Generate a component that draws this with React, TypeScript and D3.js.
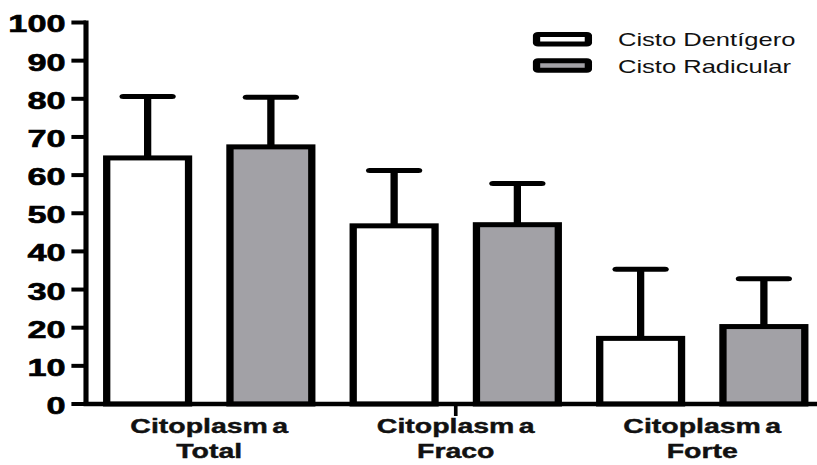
import React from "react";
import * as d3 from "d3";

// ---- data ----
const categories = ["Citoplasma Total", "Citoplasma Fraco", "Citoplasma Forte"];
const seriesNames = ["Cisto Dentígero", "Cisto Radicular"];
const dentigeroMean = [64.5, 46.7, 17.2];
const dentigeroSD = [16.1, 14.5, 18.1];
const radicularMean = [67.4, 47.0, 20.3];
const radicularSD = [13.0, 10.8, 12.5];
const yTicks = [0, 10, 20, 30, 40, 50, 60, 70, 80, 90, 100];

const seriesFill = ["#ffffff", "#a2a1a6"];

const W = 817;
const H = 465;
const SX = 1.46; // horizontal stretch of the original rendering

export default function App() {
  const innerW = W / SX;
  const axisX = 86 / SX;
  const axisEnd = 825.5 / SX;
  const y = d3.scaleLinear().domain([0, 100]).range([404, 22.5]);
  const xg = d3.scaleBand<string>().domain(categories).range([axisX, axisEnd]).padding(0);
  const xs = d3
    .scaleBand<string>()
    .domain(seriesNames)
    .range([0, xg.bandwidth()])
    .paddingInner(0.336)
    .paddingOuter(0.168);

  const means = [dentigeroMean, radicularMean];
  const sds = [dentigeroSD, radicularSD];
  const capHalf = 16.75;
  const midCat = categories[1];

  return (
    <svg
      width={W}
      height={H}
      style={{ position: "absolute", left: 0, top: 0, background: "#fff" }}
    >
      <rect x={0} y={0} width={W} height={H} fill="#fff" />
      <g transform={`scale(${SX},1)`} fontFamily="Arial, 'Liberation Sans', sans-serif">
        {/* bars */}
        {categories.map((c, ci) =>
          seriesNames.map((s, si) => {
            const v = means[si][ci];
            const x0 = (xg(c) as number) + (xs(s) as number);
            return (
              <rect
                key={c + s}
                x={x0}
                y={y(v)}
                width={xs.bandwidth()}
                height={y(0) - y(v)}
                fill={seriesFill[si]}
                stroke="#000"
                strokeWidth={5}
              />
            );
          })
        )}
        {/* error bars */}
        {categories.map((c, ci) =>
          seriesNames.map((s, si) => {
            const v = means[si][ci];
            const e = v + sds[si][ci];
            const cx = (xg(c) as number) + (xs(s) as number) + xs.bandwidth() / 2;
            return (
              <g key={"e" + c + s} stroke="#000" strokeWidth={5}>
                <line x1={cx} x2={cx} y1={y(v)} y2={y(e)} />
                <line x1={cx - capHalf} x2={cx + capHalf} y1={y(e)} y2={y(e)} strokeLinecap="round" />
              </g>
            );
          })
        )}
        {/* y axis */}
        <line x1={axisX} x2={axisX} y1={y(100) - 2} y2={y(0) + 2} stroke="#000" strokeWidth={3.5} />
        {yTicks.map((t) => (
          <g key={t}>
            <line x1={axisX - 10} x2={axisX} y1={y(t)} y2={y(t)} stroke="#000" strokeWidth={4} />
            <text
              x={axisX - 14}
              y={y(t) + 10}
              textAnchor="end"
              fontSize={23.5}
              fontWeight="bold"
              fill="#000"
              stroke="#000"
              strokeWidth={0.6}
            >
              {t}
            </text>
          </g>
        ))}
        {/* x axis */}
        <line x1={axisX - 1.7} x2={innerW + 10} y1={y(0)} y2={y(0)} stroke="#000" strokeWidth={4.5} />
        <line
          x1={(xg(midCat) as number) + xg.bandwidth() / 2}
          x2={(xg(midCat) as number) + xg.bandwidth() / 2}
          y1={y(0)}
          y2={y(0) + 12}
          stroke="#000"
          strokeWidth={2.5}
        />
        {categories.map((c) => {
          const [l1, l2] = c.split(" ");
          const cx = (xg(c) as number) + xg.bandwidth() / 2;
          return (
            <g
              key={"l" + c}
              fontSize={19.5}
              fontWeight="bold"
              fill="#111"
              stroke="#111"
              strokeWidth={0.4}
              textAnchor="middle"
            >
              <text x={cx} y={433}>
                <tspan>{l1.slice(0, -1)}</tspan>
                <tspan dx={3}>{l1.slice(-1)}</tspan>
              </text>
              <text x={cx} y={458.5}>
                {l2}
              </text>
            </g>
          );
        })}
        {/* legend */}
        {seriesNames.map((s, si) => {
          const top = [32, 58.3][si];
          return (
            <g key={"lg" + s}>
              <rect
                x={365 + 2.5}
                y={top + 2.5}
                width={40.5 - 5}
                height={14.5 - 5}
                fill={seriesFill[si]}
                stroke="#000"
                strokeWidth={5}
                rx={1}
              />
              <text x={423.3} y={[46.5, 72.8][si]} fontSize={17.5} fill="#111">
                {s}
              </text>
            </g>
          );
        })}
      </g>
    </svg>
  );
}
